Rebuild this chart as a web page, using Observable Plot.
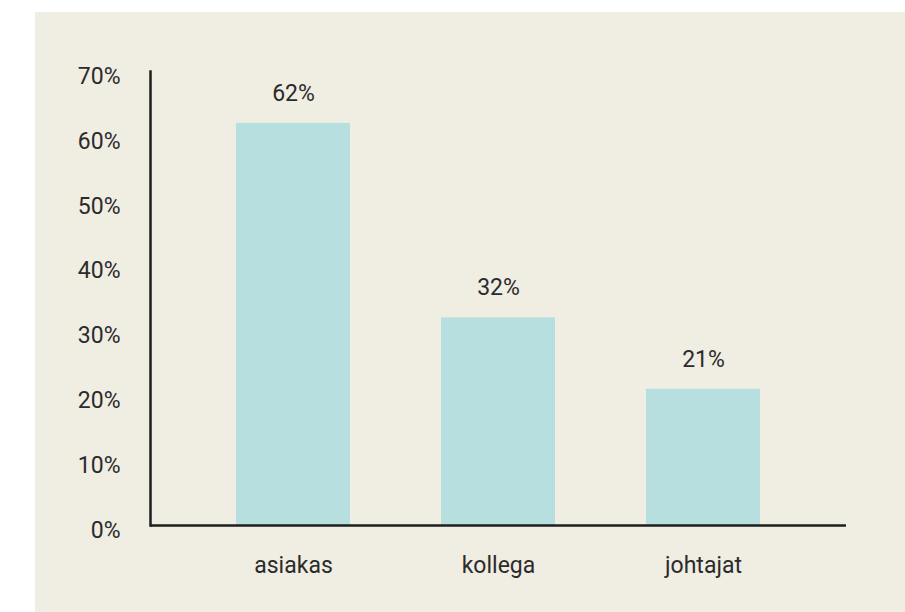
<!DOCTYPE html>
<html>
<head>
<meta charset="utf-8">
<script src="https://cdn.jsdelivr.net/npm/d3@7"></script>
<script src="https://cdn.jsdelivr.net/npm/@observablehq/plot@0.6"></script>
<style>
  html, body { margin: 0; padding: 0; background: #ffffff; }
  #panel { position: absolute; left: 35px; top: 12px; width: 870px; height: 600px; background: #f0ede2; }
  #panel svg { background: transparent; }
</style>
</head>
<body>
<div id="panel"></div>
<script>
const categories = ["asiakas", "kollega", "johtajat"];
const values = [62, 32, 21];
const yTicks = [0, 10, 20, 30, 40, 50, 60, 70];

const data = categories.map((c, i) => ({category: c, value: values[i]}));
const fmt = d => `${d}%`;

const chart = Plot.plot({
  width: 870,
  height: 600,
  marginLeft: 115,
  marginRight: 59,
  marginTop: 59,
  marginBottom: 87,
  style: {background: "transparent", fontFamily: "Roboto, sans-serif", fontSize: "23px", color: "#2b2b2b"},
  x: {domain: categories, paddingInner: 0.445, paddingOuter: 0.42, label: null},
  y: {domain: [0, 70], label: null},
  marks: [
    Plot.barY(data, {x: "category", y: "value", fill: "#b8dfdf"}),
    Plot.text(data, {x: "category", y: "value", text: d => fmt(d.value), dy: -30, fill: "#2b2b2b", fontSize: 23}),
    Plot.axisY({ticks: yTicks, tickFormat: fmt, tickSize: 0, tickPadding: 30, dy: 5, fill: "#2b2b2b", fontSize: 23, label: null}),
    Plot.axisX({tickSize: 0, tickPadding: 31, fill: "#2b2b2b", fontSize: 23, label: null}),
    Plot.frame({anchor: "left", stroke: "#1e1e1e", strokeWidth: 2.5}),
    Plot.ruleY([0], {stroke: "#1e1e1e", strokeWidth: 2.5})
  ]
});
document.getElementById("panel").appendChild(chart);
</script>
</body>
</html>
